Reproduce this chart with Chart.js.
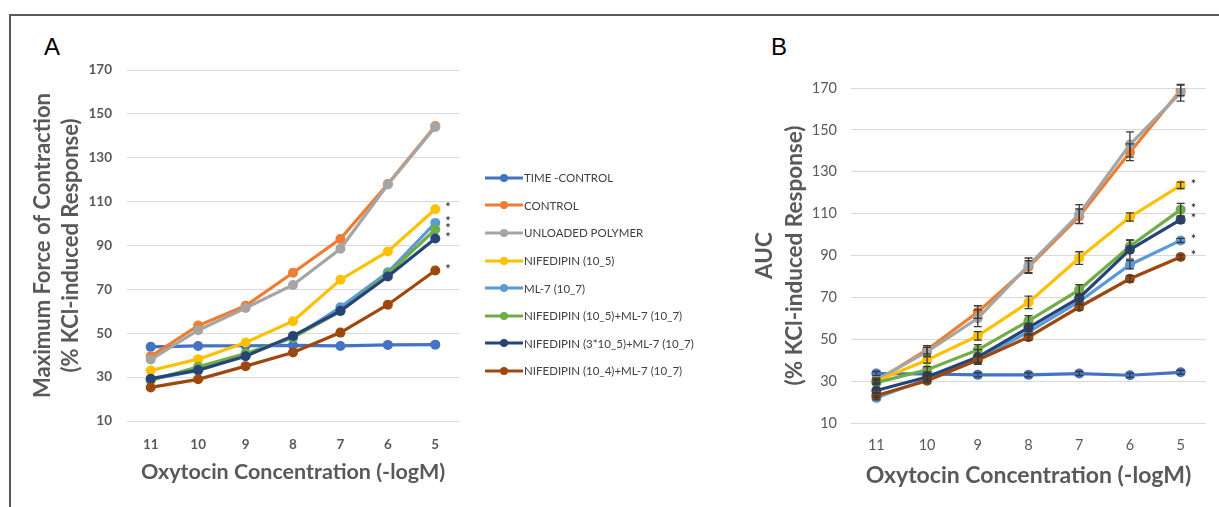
<!DOCTYPE html>
<html>
<head>
<meta charset="utf-8">
<script src="https://cdn.jsdelivr.net/npm/chart.js@4.4.1/dist/chart.umd.min.js"></script>
<style>
  body { margin: 0; background: #fff; }
  #wrap { position: relative; width: 1219px; height: 507px; overflow: hidden; font-family: Lato, "Open Sans", sans-serif; }
  #frame { position: absolute; left: 9px; top: 14px; right: -5px; bottom: -5px; border-top: 2px solid #5a5a5a; border-left: 2px solid #5a5a5a; }
  .cv { position: absolute; top: 0; }
  .letter { position: absolute; font: 24px "Liberation Sans", Arial, sans-serif; color: #000; }
  #legend { position: absolute; left: 485px; top: 164px; }
  .item { height: 27.6px; display: flex; align-items: center; font-size: 11.5px; color: #404040; white-space: nowrap; }
  .item canvas { margin-right: 1px; }
</style>
</head>
<body>
<div id="wrap">
  <div id="frame"></div>
  <div class="letter" style="left:44px; top:33px;">A</div>
  <div class="letter" style="left:771px; top:33px;">B</div>
  <canvas id="chartA" class="cv" style="left:0px;" width="480" height="507"></canvas>
  <canvas id="chartB" class="cv" style="left:740px;" width="479" height="507"></canvas>
  <div id="legend"></div>
</div>
<script>
const concentrations = ['11', '10', '9', '8', '7', '6', '5'];

const seriesNames = [
  'TIME -CONTROL',
  'CONTROL',
  'UNLOADED POLYMER',
  'NIFEDIPIN (10_5)',
  'ML-7 (10_7)',
  'NIFEDIPIN (10_5)+ML-7 (10_7)',
  'NIFEDIPIN (3*10_5)+ML-7 (10_7)',
  'NIFEDIPIN (10_4)+ML-7 (10_7)'
];
const colors = ['#4472C4', '#ED7D31', '#A5A5A5', '#FFC000', '#5B9BD5', '#70AD47', '#264478', '#9E480E'];

// Panel A - maximum force of contraction
const timeA    = [43.8, 44.2, 44.3, 44.5, 44.2, 44.7, 44.8];
const controlA = [39.5, 53.5, 62.5, 77.6, 93.0, 118.0, 144.5];
const polymerA = [38.0, 51.4, 61.5, 72.0, 88.5, 117.8, 144.0];
const nif5A    = [33.0, 38.2, 45.8, 55.5, 74.4, 87.3, 106.5];
const ml7A     = [29.0, 33.0, 40.0, 48.0, 61.8, 77.8, 100.3];
const nifMlA   = [28.5, 34.7, 40.8, 48.0, 60.0, 77.0, 97.3];
const nif3MlA  = [29.3, 33.2, 39.5, 48.8, 60.2, 75.9, 93.2];
const nif4MlA  = [25.3, 29.0, 35.0, 41.2, 50.3, 63.0, 78.6];

// Panel B - AUC
const timeB    = [33.6, 33.4, 33.0, 33.0, 33.6, 32.8, 34.2];
const controlB = [30.0, 45.0, 63.0, 84.5, 108.7, 139.3, 168.9];
const polymerB = [30.5, 44.1, 60.0, 85.3, 109.8, 143.0, 167.7];
const nif5B    = [30.0, 40.1, 51.6, 67.6, 88.8, 108.4, 123.5];
const ml7B     = [22.0, 31.0, 40.5, 53.5, 68.0, 85.6, 97.2];
const nifMlB   = [29.3, 35.4, 44.9, 58.8, 73.6, 94.4, 111.9];
const nif3MlB  = [25.5, 32.0, 41.5, 55.6, 69.7, 92.8, 107.1];
const nif4MlB  = [23.1, 30.2, 40.1, 51.0, 65.4, 78.9, 89.3];

// error bars (panel B only)
const timeErrB    = [1.0, 1.0, 1.0, 1.0, 1.0, 1.0, 1.0];
const controlErrB = [1.0, 2.0, 3.0, 3.0, 3.5, 4.0, 2.5];
const polymerErrB = [1.0, 2.0, 4.0, 3.5, 4.5, 6.0, 4.0];
const nif5ErrB    = [1.0, 1.5, 2.0, 3.0, 3.0, 2.0, 1.5];
const ml7ErrB     = [1.0, 1.0, 1.5, 1.5, 1.5, 2.0, 1.0];
const nifMlErrB   = [1.0, 1.5, 2.5, 2.5, 2.5, 3.0, 3.0];
const nif3MlErrB  = [1.0, 1.5, 3.5, 2.0, 2.0, 4.5, 1.5];
const nif4MlErrB  = [1.0, 1.0, 1.5, 1.5, 1.5, 1.5, 1.0];

const yTicks = [10, 30, 50, 70, 90, 110, 130, 150, 170];

// which series get a significance star at the last point
const starredA = [3, 4, 5, 6, 7];
const starredB = [3, 4, 5, 6, 7];

const valuesA = [timeA, controlA, polymerA, nif5A, ml7A, nifMlA, nif3MlA, nif4MlA];
const valuesB = [timeB, controlB, polymerB, nif5B, ml7B, nifMlB, nif3MlB, nif4MlB];
const errorsB = [timeErrB, controlErrB, polymerErrB, nif5ErrB, ml7ErrB, nifMlErrB, nif3MlErrB, nif4MlErrB];

const grey = '#595959';

function makeDatasets(values, errs) {
  return values.map((v, i) => ({
    label: seriesNames[i],
    data: v,
    errors: errs ? errs[i] : null,
    borderColor: colors[i],
    backgroundColor: colors[i],
    borderWidth: 3.2,
    pointRadius: 5,
    pointHoverRadius: 5,
    pointBorderWidth: 0,
    tension: 0,
    order: values.length - i
  }));
}

const errorBarPlugin = {
  id: 'errorBars',
  afterDatasetsDraw(chart) {
    const ctx = chart.ctx;
    const y = chart.scales.y;
    ctx.save();
    ctx.strokeStyle = '#3a3a3a';
    ctx.lineWidth = 1.3;
    chart.data.datasets.forEach((ds, di) => {
      if (!ds.errors) return;
      const meta = chart.getDatasetMeta(di);
      meta.data.forEach((pt, j) => {
        const e = ds.errors[j];
        const top = y.getPixelForValue(ds.data[j] + e);
        const bot = y.getPixelForValue(ds.data[j] - e);
        ctx.beginPath();
        ctx.moveTo(pt.x, top); ctx.lineTo(pt.x, bot);
        ctx.moveTo(pt.x - 4, top); ctx.lineTo(pt.x + 4, top);
        ctx.moveTo(pt.x - 4, bot); ctx.lineTo(pt.x + 4, bot);
        ctx.stroke();
      });
    });
    ctx.restore();
  }
};

const starPlugin = {
  id: 'stars',
  afterDatasetsDraw(chart, args, opts) {
    const ctx = chart.ctx;
    ctx.save();
    ctx.fillStyle = '#111';
    ctx.font = '13px Lato, sans-serif';
    ctx.textAlign = 'left';
    ctx.textBaseline = 'middle';
    (opts.list || []).forEach(di => {
      const meta = chart.getDatasetMeta(di);
      const pt = meta.data[meta.data.length - 1];
      ctx.fillText('*', pt.x + 10, pt.y - 1);
    });
    ctx.restore();
  }
};

function makeChart(id, values, errs, cfg) {
  return new Chart(document.getElementById(id), {
    type: 'line',
    data: { labels: concentrations, datasets: makeDatasets(values, errs) },
    plugins: [errorBarPlugin, starPlugin],
    options: {
      responsive: false,
      animation: false,
      layout: { padding: { top: cfg.top, right: cfg.right, left: 0, bottom: 0 } },
      plugins: {
        legend: { display: false },
        tooltip: { enabled: false },
        stars: { list: cfg.stars }
      },
      scales: {
        x: {
          offset: true,
          grid: { display: false },
          border: { display: false },
          ticks: { color: grey, font: cfg.xTickFont, padding: cfg.xTickPad },
          title: { display: true, text: 'Oxytocin Concentration (-logM)', color: grey,
                   font: cfg.xTitleFont, padding: { top: 0, bottom: cfg.xTitlePad } },
          afterFit: s => { s.height = cfg.xHeight; }
        },
        y: {
          min: 10, max: 170,
          afterBuildTicks: s => { s.ticks = yTicks.map(v => ({ value: v })); },
          grid: { color: '#D9D9D9', lineWidth: 1, drawTicks: false },
          border: { display: false },
          ticks: { color: grey, font: cfg.yTickFont, padding: cfg.yTickPad },
          title: { display: true, text: cfg.yTitle, color: grey,
                   font: cfg.yTitleFont, padding: { top: cfg.yTitlePad, bottom: 0 } },
          afterFit: s => { s.width = cfg.yWidth; }
        }
      }
    }
  });
}

makeChart('chartA', valuesA, null, {
  top: 70, right: 21, stars: starredA,
  xHeight: 86, xTickPad: 8, xTitlePad: 22,
  xTickFont: { family: 'Lato', size: 13.5, weight: 'bold' },
  xTitleFont: { family: 'Lato', size: 21.5, weight: 'bold', lineHeight: 1.2 },
  yWidth: 127, yTickPad: 15, yTitlePad: 29,
  yTickFont: { family: 'Lato', size: 13.5, weight: 'bold' },
  yTitle: ['Maximum Force of Contraction', '(% KCl-induced Response)'],
  yTitleFont: { family: 'Lato', size: 22, weight: 'bold', lineHeight: 28 / 22 }
});

makeChart('chartB', valuesB, errorsB, {
  top: 88, right: 13, stars: starredB,
  xHeight: 84, xTickPad: 6, xTitlePad: 18,
  xTickFont: { family: 'Lato', size: 14.5 },
  xTitleFont: { family: 'Lato', size: 23, weight: 'bold', lineHeight: 1.2 },
  yWidth: 111, yTickPad: 14, yTitlePad: 10,
  yTickFont: { family: 'Lato', size: 14.5 },
  yTitle: ['AUC', '(% KCl-induced Response)'],
  yTitleFont: { family: 'Lato', size: 22.5, weight: 'bold', lineHeight: 30 / 22.5 }
});

// legend for panel A
const legend = document.getElementById('legend');
seriesNames.forEach((name, i) => {
  const row = document.createElement('div');
  row.className = 'item';
  const c = document.createElement('canvas');
  c.width = 38; c.height = 10;
  const g = c.getContext('2d');
  g.strokeStyle = colors[i]; g.fillStyle = colors[i]; g.lineWidth = 3;
  g.beginPath(); g.moveTo(0, 5); g.lineTo(38, 5); g.stroke();
  g.beginPath(); g.arc(19, 5, 4, 0, Math.PI * 2); g.fill();
  row.appendChild(c);
  row.appendChild(document.createTextNode(name));
  legend.appendChild(row);
});
</script>
</body>
</html>
